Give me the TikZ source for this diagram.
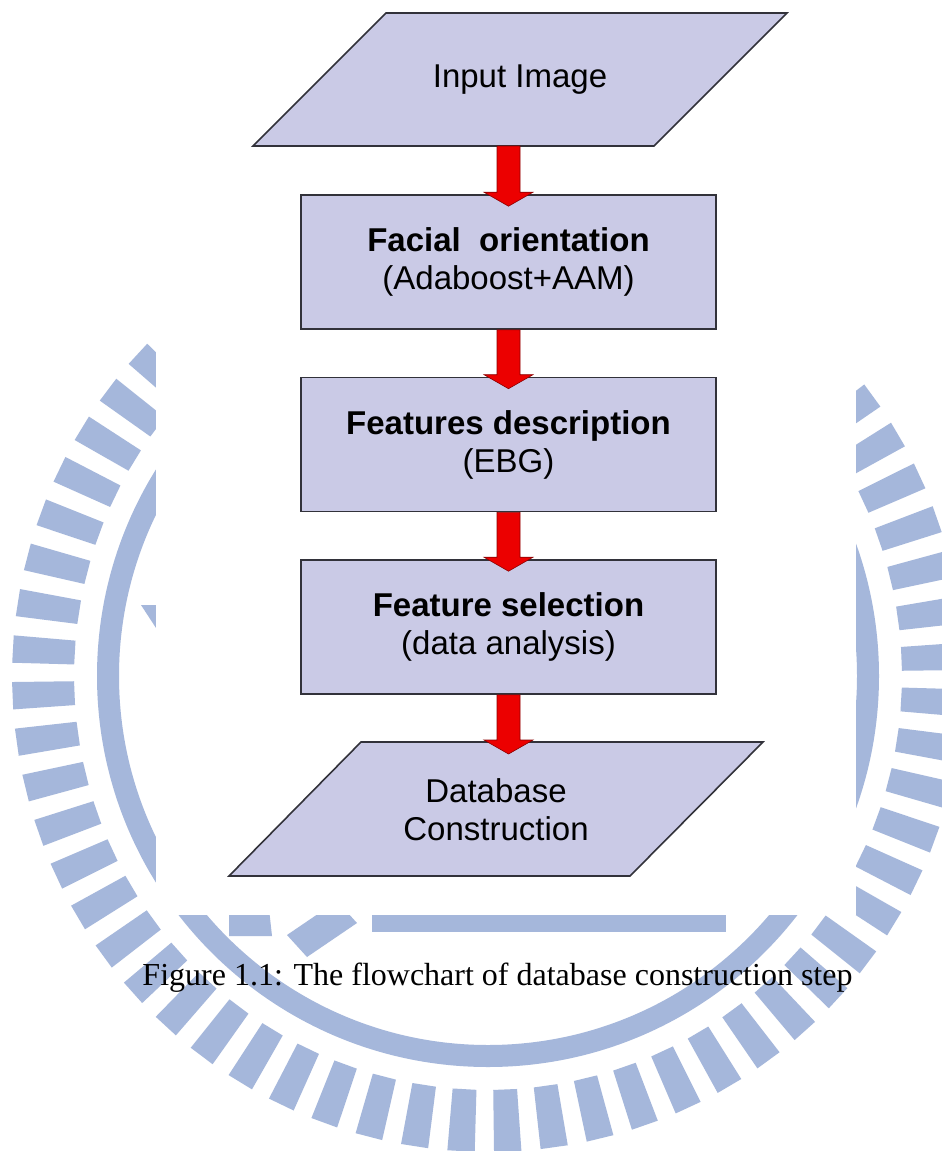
\documentclass[tikz,border=0pt]{standalone}
\usepackage{fontspec}
\setmainfont{Liberation Serif}
\newfontfamily\flowfont{Liberation Sans}
\usetikzlibrary{calc}

\definecolor{markblue}{RGB}{165,183,219}
\definecolor{boxfill}{RGB}{202,202,230}
\definecolor{boxline}{RGB}{50,50,58}
\definecolor{arrowred}{RGB}{236,0,0}

\tikzset{
  stepbox/.style={draw=boxline, line width=0.8pt, fill=boxfill,
    minimum width=207.5pt, minimum height=67pt, inner sep=0pt},
  iobox/.style={draw=boxline, line width=0.8pt, fill=boxfill},
  boxtext/.style={font=\flowfont\fontsize{16.5}{19}\selectfont, align=center,
    text=black, inner sep=0pt},
  flowarrow/.style={fill=arrowred, draw=red!55!black, line width=0.3pt},
  caption/.style={font=\fontsize{16}{19}\selectfont, text=black, inner sep=0pt},
}

% red block arrow from one anchor down to the top edge of the next box
\newcommand\blockarrow[2]{%
  \path[flowarrow] ($(#1)+(-11.5,0)$) -- ($(#2)+(-11.5,-2)$) -- ($(#2)+(-24.5,-2)$)
    -- ($(#2)+(0,12)$) -- ($(#2)+(24.5,-2)$) -- ($(#2)+(11.5,-2)$)
    -- ($(#1)+(11.5,0)$) -- cycle;}

\begin{document}
\begin{tikzpicture}[x=0.5pt, y=-0.5pt]
\useasboundingbox (0,0) rectangle (942,1151);
\clip (0,0) rectangle (942,1151);
\fill[white] (0,0) rectangle (942,1151);

% ---- seal in the background: ring of bars, inner circle and emblem parts
\begin{scope}[shift={(488,676)}]
  \foreach \k in {0,...,63} {
    \pgfmathsetmacro\ca{3.25+5.625*\k-1.65}
    \pgfmathsetmacro\cb{3.25+5.625*\k+1.65}
    \fill[markblue] (\ca:414) -- (\ca:476) -- (\cb:476) -- (\cb:414) -- cycle;
  }
  \fill[markblue, even odd rule] (0,0) circle[radius=391] (0,0) circle[radius=369];
\end{scope}
\fill[markblue] (372,895) rectangle (726,932);
\fill[markblue] (287,935) -- (307,957) -- (357,923) -- (337,901) -- cycle;
\fill[markblue] (229,900) -- (268,900) -- (272,936) -- (229,936) -- cycle;
\fill[markblue] (141,605) -- (175,605) -- (175,657) -- cycle;

% ---- white panel holding the flowchart
\fill[white] (156,0) rectangle (856,915);

% ---- input parallelogram
\path[iobox] (386,13) -- (787,13) -- (654,146) -- (253,146) -- cycle;
\node[boxtext] (inp) at (520,80) {Input Image};
\coordinate (inpB) at (508.5,146);

% ---- process boxes
\node[stepbox, boxtext] (f1) at (508.5,262)
  {\textbf{Facial\ \ orientation}\\(Adaboost+AAM)};
\node[stepbox, boxtext] (f2) at (508.5,444.5)
  {\textbf{Features description}\\(EBG)};
\node[stepbox, boxtext] (f3) at (508.5,627)
  {\textbf{Feature selection}\\(data analysis)};

% ---- output parallelogram
\path[iobox] (361,742) -- (763,742) -- (630,876) -- (229,876) -- cycle;
\node[boxtext] (db) at (496,810) {Database\\Construction};
\coordinate (dbT) at (508.5,742);

% ---- arrows
\blockarrow{inpB}{f1.north}
\blockarrow{f1.south}{f2.north}
\blockarrow{f2.south}{f3.north}
\blockarrow{f3.south}{dbT}

% ---- caption
\node[caption, anchor=base] (cap) at (497.5,985)
  {Figure 1.1: The flowchart of database construction step};
\end{tikzpicture}
\end{document}
